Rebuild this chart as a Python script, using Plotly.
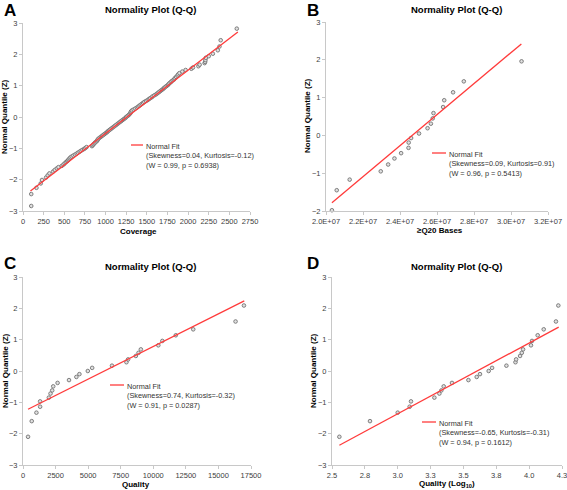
import plotly.graph_objects as go

W, H = 567, 490
FONT = "Liberation Sans, Arial, sans-serif"

# ---------------- Data ----------------
# Panel A: Coverage
coverage = [100, 100, 163, 215, 230, 280, 300, 320, 365, 385,
            410, 430, 470, 490, 505, 520, 535, 545, 555, 565,
            575, 590, 610, 630, 650, 665, 685, 700, 720, 740,
            755, 770, 835, 845, 855, 865, 875, 890, 900, 905,
            915, 930, 945, 960, 975, 990, 1005, 1020, 1030, 1045,
            1060, 1075, 1090, 1105, 1120, 1135, 1150, 1165, 1180, 1195,
            1210, 1225, 1240, 1250, 1265, 1280, 1290, 1300, 1305, 1310,
            1320, 1340, 1360, 1380, 1395, 1410, 1425, 1440, 1455, 1470,
            1490, 1510, 1525, 1540, 1560, 1570, 1590, 1610, 1625, 1640,
            1655, 1670, 1685, 1700, 1710, 1725, 1740, 1755, 1765, 1775,
            1790, 1800, 1815, 1830, 1840, 1855, 1870, 1880, 1895, 1930,
            1970, 2040, 2060, 2125, 2140, 2200, 2207, 2210, 2215, 2250,
            2300, 2360, 2380, 2395, 2590]
coverage_z = [-2.84, -2.46, -2.26, -2.12, -2.01, -1.93, -1.86, -1.80, -1.74, -1.69,
              -1.64, -1.60, -1.56, -1.52, -1.48, -1.44, -1.41, -1.38, -1.35, -1.32,
              -1.29, -1.26, -1.23, -1.20, -1.17, -1.14, -1.11, -1.08, -1.05, -1.02,
              -0.99, -0.96, -0.93, -0.90, -0.87, -0.84, -0.81, -0.78, -0.75, -0.72,
              -0.69, -0.66, -0.63, -0.60, -0.57, -0.54, -0.51, -0.48, -0.45, -0.42,
              -0.39, -0.36, -0.33, -0.30, -0.27, -0.24, -0.21, -0.18, -0.15, -0.12,
              -0.09, -0.06, -0.03, 0.00, 0.03, 0.06, 0.09, 0.12, 0.15, 0.18,
              0.21, 0.24, 0.27, 0.30, 0.33, 0.36, 0.39, 0.42, 0.45, 0.48,
              0.51, 0.54, 0.57, 0.60, 0.63, 0.66, 0.69, 0.72, 0.75, 0.78,
              0.81, 0.84, 0.87, 0.90, 0.93, 0.96, 0.99, 1.02, 1.05, 1.08,
              1.11, 1.14, 1.17, 1.20, 1.24, 1.28, 1.32, 1.36, 1.40, 1.45,
              1.50, 1.54, 1.58, 1.62, 1.67, 1.72, 1.76, 1.82, 1.89, 1.94,
              2.02, 2.13, 2.25, 2.45, 2.82]
coverage_fit_x = [90, 2603]
coverage_fit_z = [-2.36, 2.71]

# Panel B: >=Q20 bases
q20_bases = [20.32e6, 20.58e6, 21.28e6, 22.96e6, 23.36e6, 23.70e6, 24.06e6, 24.46e6,
             24.47e6, 24.60e6, 25.03e6, 25.49e6, 25.67e6, 25.77e6, 25.81e6, 26.33e6,
             26.39e6, 26.87e6, 27.45e6, 30.57e6]
q20_z = [-1.98, -1.45, -1.17, -0.95, -0.77, -0.61, -0.47, -0.33, -0.19, -0.07,
         0.05, 0.19, 0.31, 0.45, 0.59, 0.75, 0.93, 1.14, 1.43, 1.96]
q20_fit_x = [20.32e6, 30.56e6]
q20_fit_z = [-1.78, 2.42]
q20_tickvals = [2.0e7, 2.2e7, 2.4e7, 2.6e7, 2.8e7, 3.0e7, 3.2e7]
q20_ticktext = ["2.0E+07", "2.2E+07", "2.4E+07", "2.6E+07", "2.8E+07", "3.0E+07", "3.2E+07"]

# Panel C: Quality
quality = [387, 670, 1031, 1314, 1314, 1985, 2113, 2242, 2320, 2655, 3531, 4098, 4330,
           4974, 5309, 6830, 7938, 8067, 8660, 8866, 9046, 10387, 10696, 11727, 13067,
           16314, 16959]
quality_z = [-2.10, -1.60, -1.33, -1.14, -0.97, -0.85, -0.72, -0.62, -0.49, -0.38, -0.29,
             -0.19, -0.10, 0.00, 0.10, 0.17, 0.28, 0.37, 0.48, 0.58, 0.69, 0.82, 0.96,
             1.14, 1.33, 1.58, 2.09]
quality_fit_x = [387, 16985]
quality_fit_z = [-1.22, 2.24]

# Panel D: Quality (log10)
log_quality = [2.556, 2.789, 3.000, 3.091, 3.101, 3.279, 3.317, 3.332, 3.350, 3.413,
               3.538, 3.601, 3.626, 3.692, 3.718, 3.827, 3.896, 3.901, 3.931, 3.944,
               3.954, 4.014, 4.022, 4.065, 4.111, 4.204, 4.222]
log_quality_z = quality_z
log_fit_x = [2.556, 4.225]
log_fit_z = [-2.37, 1.40]
log_tickvals = [2.5, 2.75, 3.0, 3.25, 3.5, 3.75, 4.0, 4.25]
log_ticktext = ["2.5", "2.8", "3.0", "3.3", "3.5", "3.8", "4.0", "4.3"]

legend_texts = [
    "Normal Fit<br>(Skewness=0.04, Kurtosis=-0.12)<br>(W = 0.99, p = 0.6938)",
    "Normal Fit<br>(Skewness=0.09, Kurtosis=0.91)<br>(W = 0.96, p = 0.5413)",
    "Normal Fit<br>(Skewness=0.74, Kurtosis=-0.32)<br>(W = 0.91, p = 0.0287)",
    "Normal Fit<br>(Skewness=-0.65, Kurtosis=-0.31)<br>(W = 0.94, p = 0.1612)",
]

# ---------------- Layout helpers ----------------
def px_x(p):
    return p / W

def px_y(p):
    return 1 - p / H

panels = [
    dict(xd=(23, 250), yd=(23, 211)),
    dict(xd=(326, 548), yd=(22, 211)),
    dict(xd=(23, 251), yd=(277, 465)),
    dict(xd=(332, 562), yd=(277, 465)),
]

fig = go.Figure()

MARK = dict(symbol="circle", size=3.6, color="#e0e0e0", line=dict(color="#737373", width=0.9))
LINE = dict(color="#ff3b3b", width=1.3)

series = [
    (coverage, coverage_z, coverage_fit_x, coverage_fit_z),
    (q20_bases, q20_z, q20_fit_x, q20_fit_z),
    (quality, quality_z, quality_fit_x, quality_fit_z),
    (log_quality, log_quality_z, log_fit_x, log_fit_z),
]

for i, (xs, zs, fx, fz) in enumerate(series):
    ax = "" if i == 0 else str(i + 1)
    fig.add_trace(go.Scatter(x=xs, y=zs, mode="markers", marker=MARK,
                             xaxis="x" + ax, yaxis="y" + ax, showlegend=False,
                             cliponaxis=False))
    fig.add_trace(go.Scatter(x=fx, y=fz, mode="lines", line=LINE,
                             xaxis="x" + ax, yaxis="y" + ax, showlegend=False))

axis_common = dict(showline=True, linecolor="#c8c8c8", linewidth=1, ticks="outside",
                   ticklen=3, tickcolor="#c8c8c8", showgrid=False, zeroline=False,
                   automargin=False, ticklabeloverflow="allow",
                   tickfont=dict(family=FONT, size=7.5, color="#404040"))

xranges = [
    dict(range=[0, 2750], tickmode="linear", tick0=0, dtick=250, tickformat="d"),
    dict(range=[2.0e7, 3.2e7], tickmode="array", tickvals=q20_tickvals, ticktext=q20_ticktext),
    dict(range=[0, 17500], tickmode="linear", tick0=0, dtick=2500, tickformat="d"),
    dict(range=[2.5, 4.25], tickmode="array", tickvals=log_tickvals, ticktext=log_ticktext),
]
yranges = [
    dict(range=[-3, 3], dtick=1),
    dict(range=[-2, 3], dtick=1),
    dict(range=[-3, 3], dtick=1),
    dict(range=[-3, 3], dtick=1),
]

layout = dict(width=W, height=H,
              margin=dict(l=0, r=0, t=0, b=0, pad=0, autoexpand=False),
              paper_bgcolor="white", plot_bgcolor="white", showlegend=False)

for i, p in enumerate(panels):
    ax = "" if i == 0 else str(i + 1)
    xd = [px_x(p["xd"][0]), px_x(p["xd"][1])]
    yd = [px_y(p["yd"][1]), px_y(p["yd"][0])]
    xa = dict(axis_common, domain=xd, anchor="y" + ax, **xranges[i])
    ya = dict(axis_common, domain=yd, anchor="x" + ax, tickmode="linear", tick0=0, **yranges[i])
    layout["xaxis" + ax] = xa
    layout["yaxis" + ax] = ya

fig.update_layout(**layout)

annotations = []
def ann(text, x, y, size, bold=False, xanchor="center", yanchor="middle", angle=0,
        color="#000000", align="center"):
    annotations.append(dict(text=("<b>%s</b>" % text) if bold else text,
                            x=px_x(x), y=px_y(y), xref="paper", yref="paper",
                            showarrow=False, xanchor=xanchor, yanchor=yanchor,
                            textangle=angle, align=align,
                            font=dict(family=FONT, size=size, color=color)))

letters = ["A", "B", "C", "D"]
letter_pos = [(2, 10), (305, 10), (2, 263), (305, 263)]
title_pos = [(150, 9), (456, 9), (150, 266), (456, 266)]
ylab_pos = [(5, 117), (308, 116), (5, 371), (313, 371)]
xlabels = ["Coverage", "≥Q20 Bases", "Quality", "Quality (Log<sub>10</sub>)"]
xlab_pos = [(138, 231), (440, 230), (136, 484), (447, 484)]
leg_line = [(131, 143, 145), (432, 446, 153), (110, 124, 385), (422, 436, 422)]

shapes = []
for i in range(4):
    ann(letters[i], letter_pos[i][0], letter_pos[i][1], 17, bold=True, xanchor="left")
    ann("Normality Plot (Q-Q)", title_pos[i][0], title_pos[i][1], 9.5, bold=True)
    ann("Normal Quantile (Z)", ylab_pos[i][0], ylab_pos[i][1], 8, bold=True, angle=-90)
    ann(xlabels[i], xlab_pos[i][0], xlab_pos[i][1], 8, bold=True)
    x0, x1, yy = leg_line[i]
    shapes.append(dict(type="line", xref="paper", yref="paper",
                       x0=px_x(x0), x1=px_x(x1), y0=px_y(yy), y1=px_y(yy),
                       line=dict(color="#ff3b3b", width=1.3)))
    ann(legend_texts[i], x1 + 1, yy - 5, 7.3, xanchor="left", yanchor="top",
        color="#333333", align="left")

fig.update_layout(annotations=annotations, shapes=shapes)
fig.write_html("out.html", config={"displayModeBar": False},
               post_script="document.body.style.margin='0px';document.body.style.padding='0px';")
